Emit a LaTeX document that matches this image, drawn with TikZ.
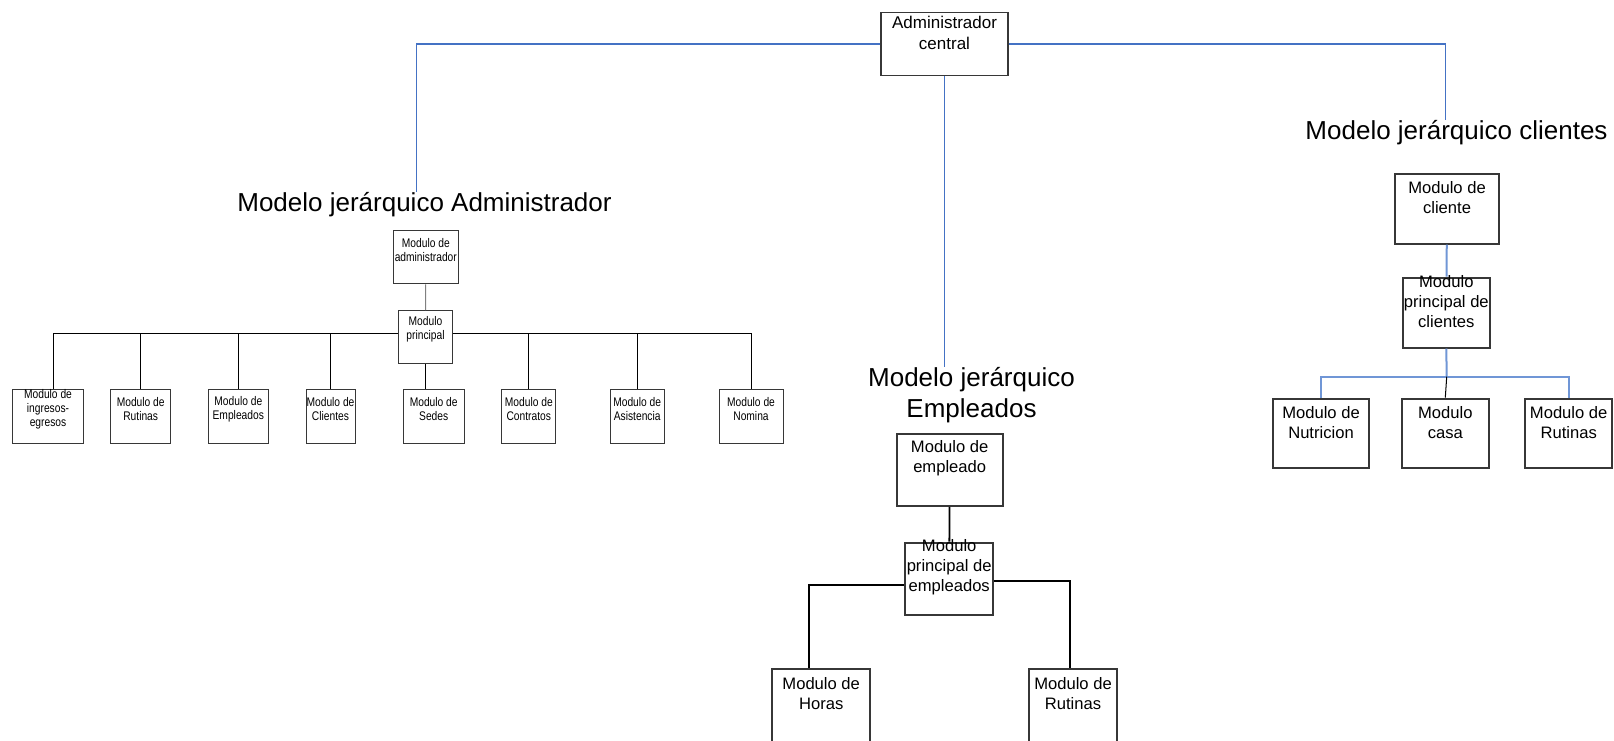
\documentclass[tikz,border=0pt]{standalone}
\usepackage{fontspec}
\setmainfont{Liberation Sans}
\newfontfamily\angosta[FakeStretch=0.82]{Liberation Sans}
\definecolor{azul}{RGB}{68,114,196}
\definecolor{azulclaro}{RGB}{112,150,214}
\definecolor{borde}{RGB}{55,55,55}
\tikzset{
  caja/.style={draw=borde,line width=1.8pt,inner sep=0pt,anchor=north},
  grande/.style 2 args={caja,minimum width=#1,minimum height=#2},
  chica/.style={draw=borde,line width=1pt,inner sep=0pt,anchor=north,minimum width=#1,minimum height=53.4pt},
  txtA/.style={anchor=center,yshift=-19.6pt,align=center,inner sep=0pt,font=\angosta\fontsize{12.5}{14}\selectfont},
  txtB/.style={anchor=center,yshift=-25pt,align=center,inner sep=0pt,font=\fontsize{16.6}{20}\selectfont},
  txtC/.style={anchor=center,yshift=-21pt,align=center,inner sep=0pt,font=\fontsize{17}{20.5}\selectfont},
  titulo/.style={inner sep=0pt,anchor=base,font=\fontsize{26}{30.6}\selectfont},
  rama/.style={line width=1pt},
  ramaE/.style={line width=1.8pt},
  ramaC/.style={azulclaro,line width=2pt},
  enlace/.style={azul,line width=1.2pt}
}
\begin{document}
\begin{tikzpicture}[x=1pt,y=-1pt]
\useasboundingbox (0,0) rectangle (1614,740);
\node[grande={127pt}{63.3pt},line width=1.2pt,label={[txtC]north:Administrador\\central}] (central) at (944.5,11.7) {};
% titulos
\node[titulo] (tadm) at (424.5,211.7) {Modelo jerárquico Administrador};
\node[titulo] (tcli) at (1456.5,139.3) {Modelo jerárquico clientes};
\node[titulo,align=center] (temp) at (971.5,417.3) {Modelo jerárquico\\Empleados};
\draw[enlace] (central.west) -| ([xshift=-7.8pt]tadm.north);
\draw[enlace] (central.east) -| ([xshift=-10.8pt]tcli.north);
\draw[enlace] (central.south) -- (central.south |- temp.north);
% administrador
\node[chica=65pt,label={[txtA]north:Modulo de\\administrador}] (adm) at (425.8,230) {};
\node[chica=54.4pt,label={[txtA]north:Modulo\\principal}] (pri) at (425.5,310) {};
\foreach \n/\x/\w/\t in {ing/48/70.6/{Modulo de\\ingresos-\\egresos},rut/140.7/60/{Modulo de\\Rutinas},
  emp/238.3/60/{Modulo de\\Empleados},cli/330.5/49/{Modulo de\\Clientes},sed/433.7/60.7/{Modulo de\\Sedes},
  con/528.8/54.3/{Modulo de\\Contratos},asi/637.2/54.3/{Modulo de\\Asistencia},nom/751/64/{Modulo de\\Nomina}}
  \node[chica=\w pt,label={[txtA]north:\t}] (\n) at (\x,389.3) {};
\draw[rama,gray] (adm) -- (pri);
\draw[rama] ([yshift=4pt]pri.west) -| ([xshift=5pt]ing.north);
\foreach \n in {rut,emp,cli} \draw[rama] ([yshift=4pt]pri.west) -| (\n.north);
\foreach \n in {con,asi,nom} \draw[rama] ([yshift=4pt]pri.east) -| (\n.north);
\draw[rama] (pri.south) -- (pri.south |- sed.north);
% empleados
\node[grande={106pt}{72.3pt},label={[txtB]north:Modulo de\\empleado}] (eem) at (949.7,432.7) {};
\node[grande={88.3pt}{72.3pt},label={[txtB]north:Modulo\\principal de\\empleados}] (epr) at (949.2,541.7) {};
\node[grande={97.7pt}{80pt},label={[txtB]north:Modulo de\\Horas}] (hor) at (821.2,668.3) {};
\node[grande={87.4pt}{80pt},label={[txtB]north:Modulo de\\Rutinas}] (eru) at (1073,668.3) {};
\draw[ramaE] (eem) -- (epr);
\draw[ramaE] ([yshift=-6.5pt]epr.west) -| ([xshift=-12pt]hor.north);
\draw[ramaE] ([yshift=-2pt]epr.east) -| ([xshift=-3pt]eru.north);
% clientes
\node[grande={104pt}{70pt},label={[txtB]north:Modulo de\\cliente}] (ccl) at (1447,172.7) {};
\node[grande={87.3pt}{70pt},label={[txtB]north:Modulo\\principal de\\clientes}] (cpr) at (1446.3,276.7) {};
\node[grande={96.6pt}{69pt},label={[txtB]north:Modulo de\\Nutricion}] (nut) at (1321,397.7) {};
\node[grande={87.3pt}{69pt},label={[txtB]north:Modulo\\casa}] (cas) at (1445.3,397.7) {};
\node[grande={87.3pt}{69pt},label={[txtB]north:Modulo de\\Rutinas}] (cru) at (1568.7,397.7) {};
\coordinate (cbar) at (1446.7,376.7);
\draw[ramaC] (ccl) -- (cpr);
\draw[ramaC] (cpr.south) -- (cbar);
\draw[ramaC] (nut.north) |- (cbar) -| (cru.north);
\draw[rama] (cbar) -- (cas.north);
\end{tikzpicture}
\end{document}
